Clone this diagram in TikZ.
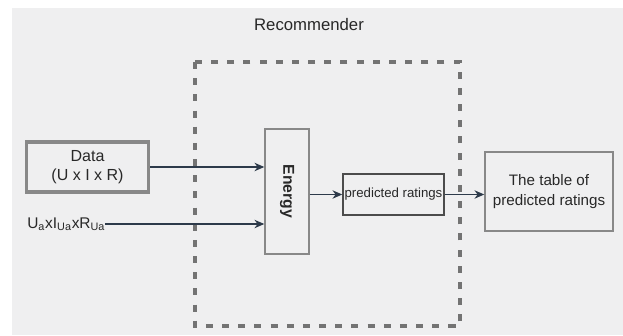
\documentclass[tikz,border=0pt]{standalone}
\usepackage{fontspec}
\setmainfont{Liberation Sans}
\usetikzlibrary{arrows.meta}
\definecolor{bgc}{RGB}{239,239,240}
\definecolor{boxgray}{RGB}{136,136,136}
\definecolor{darkline}{RGB}{45,58,74}
\definecolor{txt}{RGB}{40,40,40}

\begin{document}
\begin{tikzpicture}[x=0.025cm,y=-0.025cm,>={Stealth[length=7pt,width=6pt]},
  box/.style={draw=boxgray,line width=1pt,text=txt,align=center,inner sep=0pt},
  link/.style={->,draw=darkline,line width=0.8pt}]
\useasboundingbox (0,0) rectangle (623,335);
\fill[bgc] (12,8) rectangle (623,335);

% recommender frame
\draw[black!55,line width=2.2pt,dash pattern=on 5pt off 6.5pt] (195,62) rectangle (460,326);
\node[text=txt,font=\fontsize{11.9}{14}\selectfont] (rec) at (309,25) {Recommender};

% boxes
\node[box,line width=2.6pt,minimum width=3.05cm,minimum height=1.25cm,font=\fontsize{11.4}{14}\selectfont] (data) at (87.5,167) {Data\\(U x I x R)};
\node[box,minimum width=1.1cm,minimum height=3.125cm] (energy) at (287,191.5) {};
\node[rotate=-90,text=txt,font=\bfseries\fontsize{11.2}{13}\selectfont] (elabel) at (energy.center) {Energy};
\node[box,draw=black!70,minimum width=2.525cm,minimum height=1.025cm,font=\fontsize{9.4}{11}\selectfont] (pred) at (393.5,194.5) {predicted ratings};
\node[box,minimum width=3.2cm,minimum height=1.975cm,font=\fontsize{10.8}{14}\selectfont] (table) at (549,191.5) {The table of\\predicted ratings};
\node[anchor=west,inner sep=0pt,text=txt,font=\fontsize{11}{13}\selectfont] (ua) at (27,224) {U\textsubscript{a}xI\textsubscript{Ua}xR\textsubscript{Ua}};

% connectors
\draw[link] (data.east) -- (data.east -| energy.west);
\draw[link] (ua.east) -- (ua.east -| energy.west);
\draw[link] (energy.east |- pred.west) -- (pred.west);
\draw[link] (pred.east) -- (pred.east -| table.west);
\end{tikzpicture}
\end{document}
